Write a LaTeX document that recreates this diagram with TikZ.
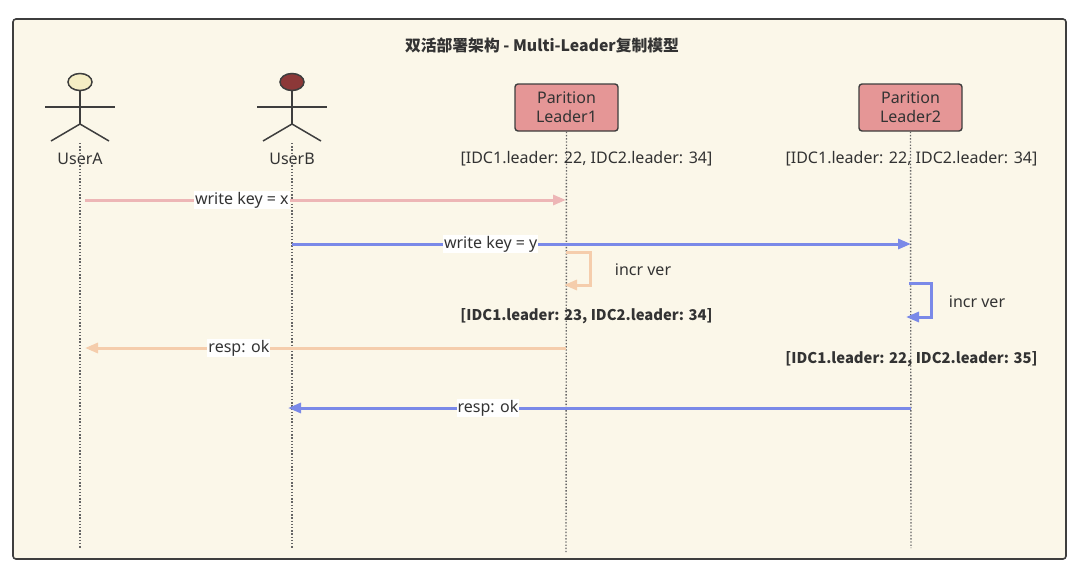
\documentclass[tikz,border=0pt]{standalone}
\usepackage{fontspec}
\setmainfont{Noto Sans}
\newfontfamily\cjk{Noto Sans CJK SC}
\usetikzlibrary{arrows.meta}
\definecolor{bgcream}{RGB}{251,247,233}
\definecolor{framegray}{RGB}{62,62,62}
\definecolor{txtgray}{RGB}{51,51,51}
\definecolor{headyellow}{RGB}{245,237,196}
\definecolor{headred}{RGB}{140,56,56}
\definecolor{leaderpink}{RGB}{229,150,150}
\definecolor{msgpink}{RGB}{237,182,182}
\definecolor{msgpeach}{RGB}{245,205,172}
\definecolor{msgblue}{RGB}{122,137,232}
\tikzset{
	actorline/.style={line width=1.5pt, color=framegray},
	lifeline/.style={line width=1.4pt, color=framegray!80, dash pattern=on 1.4pt off 1.8pt},
	leaderbox/.style={draw=framegray, line width=1.4pt, fill=leaderpink, rounded corners=3pt, minimum width=103pt, minimum height=47pt, align=center, text=txtgray, font=\fontsize{16}{19}\selectfont},
	msg/.style={line width=3pt, -{Triangle[length=13pt,width=10pt]}},
	msglabel/.style={fill=white, inner sep=1pt, text=txtgray, font=\fontsize{16}{18}\selectfont},
	plain/.style={text=txtgray, font=\fontsize{16}{18}\selectfont},
	state/.style={text=txtgray, font=\cjk\bfseries\fontsize{14.8}{17}\selectfont}
}
\def\drawactor(#1)#2#3{%
	\draw[actorline, fill=#2] (#1,82) ellipse (12pt and 8.5pt);
	\draw[actorline] (#1,90.5) -- (#1,124);
	\draw[actorline] (#1-35,107) -- (#1+35,107);
	\draw[actorline] (#1-29,141) -- (#1,124) -- (#1+29,141);
	\node[plain] (#3) at (#1,159) {#3};}

\begin{document}
\begin{tikzpicture}[x=1pt, y=-1pt]
	%%%%% FRAME %%%%%
	\useasboundingbox (0,0) rectangle (1080,581);
	\draw[fill=bgcream, draw=framegray, line width=1.6pt, rounded corners=3pt] (13,19) rectangle (1066,559);
	\node[text=txtgray, font=\cjk\bfseries\fontsize{15.8}{18}\selectfont] (title) at (542,45) {双活部署架构 - Multi-Leader复制模型};
	
	%%%%% PARTICIPANTS %%%%%
	\drawactor(80){headyellow}{UserA}
	\drawactor(292){headred}{UserB}
	\node[leaderbox] (leader1) at (566.5,107.5) {Parition\\Leader1};
	\node[leaderbox] (leader2) at (910.5,107.5) {Parition\\Leader2};
	
	%%%%% LIFELINES %%%%%
	\coordinate (userA-end) at (80,548);
	\coordinate (userB-end) at (292,548);
	\coordinate (leader1-end) at (566,552);
	\coordinate (leader2-end) at (911,548);
	\draw[lifeline] (80,143) -- (userA-end);
	\draw[lifeline] (292,143) -- (userB-end);
	\draw[lifeline] (leader1.south) -- (leader1-end);
	\draw[lifeline] (leader2.south) -- (leader2-end);
	
	\node[plain] (state1a) at (586.5,159) {[IDC1.leader: 22, IDC2.leader: 34]};
	\node[plain] (state2a) at (911.5,159) {[IDC1.leader: 22, IDC2.leader: 34]};
	
	%%%%% MESSAGES %%%%%
	\coordinate (wx-from) at (85,200);
	\coordinate (wx-to) at (566,200);
	\draw[msg, msgpink] (wx-from) -- node[msglabel, pos=0.326] {write key = x} (wx-to);
	
	\coordinate (wy-from) at (292,244);
	\coordinate (wy-to) at (911,244);
	\draw[msg, msgblue] (wy-from) -- node[msglabel, pos=0.321] {write key = y} (wy-to);
	
	\coordinate (incr1-from) at (566,252);
	\coordinate (incr1-to) at (564,285);
	\draw[msg, msgpeach] (incr1-from) -- ++(24,0) |- (incr1-to);
	\node[plain] (incr1) at (643,270) {incr ver};
	
	\node[state] (state1b) at (586.5,316) {[IDC1.leader: 23, IDC2.leader: 34]};
	
	\coordinate (incr2-from) at (909,283);
	\coordinate (incr2-to) at (906,317);
	\draw[msg, msgblue] (incr2-from) -- ++(22,0) |- (incr2-to);
	\node[plain] (incr2) at (977,302) {incr ver};
	
	\coordinate (okA-from) at (566,348);
	\coordinate (okA-to) at (85,348);
	\draw[msg, msgpeach] (okA-from) -- node[msglabel, pos=0.68] {resp: ok} (okA-to);
	
	\node[state] (state2b) at (911.5,359) {[IDC1.leader: 22, IDC2.leader: 35]};
	
	\coordinate (okB-from) at (911,408);
	\coordinate (okB-to) at (288,408);
	\draw[msg, msgblue] (okB-from) -- node[msglabel, pos=0.679] {resp: ok} (okB-to);
	
\end{tikzpicture}
\end{document}
